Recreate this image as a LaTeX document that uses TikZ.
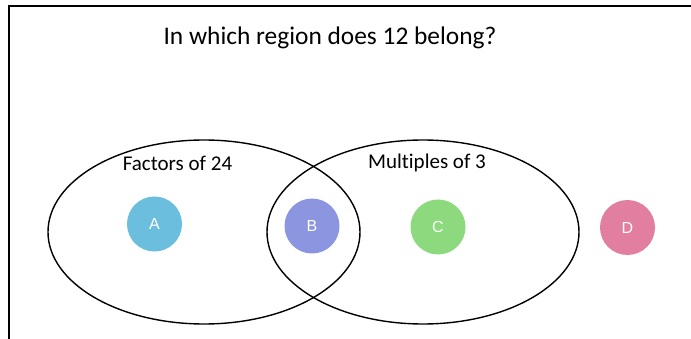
\documentclass[tikz,border=0pt]{standalone}
\usepackage{fontspec}
\setmainfont[Ligatures={NoCommon}]{Carlito}
\newfontfamily\letterfont{Liberation Sans}
\usetikzlibrary{shapes.geometric}
\definecolor{cA}{HTML}{6CBEDE}
\definecolor{cB}{HTML}{8B95E0}
\definecolor{cC}{HTML}{8CD97E}
\definecolor{cD}{HTML}{E27EA0}
\begin{document}
\begin{tikzpicture}[x=1pt,y=-1pt,
  setell/.style={ellipse, draw=black, line width=1.4pt, inner sep=0pt, minimum width=312pt, minimum height=184pt},
  region/.style={circle, inner sep=0pt, minimum size=55pt, text=white, font=\letterfont\fontsize{16}{18}\selectfont},
  setlabel/.style={font=\fontsize{21}{24}\selectfont, inner sep=0pt}]
\useasboundingbox (0,0) rectangle (691,339);
\fill[white] (0,0) rectangle (691,339);
\coordinate (fbl) at (8.5,339);
\coordinate (ftl) at (8.5,6);
\coordinate (ftr) at (691,6);
\draw[line width=2pt] (fbl) -- (ftl) -- (ftr);
\node[font=\fontsize{25.4}{30}\selectfont, inner sep=0pt] (title) at (330,38) {In which region does 12 belong?};
\node[setell] (left) at (204,232) {};
\node[setell] (right) at (423,232) {};
\node[setlabel] (lf) at (177.5,163) {Factors of 24};
\node[setlabel] (lm) at (427,163) {Multiples of 3};
\node[region, fill=cA] (A) at (154.5,224) {A};
\node[region, fill=cB] (B) at (312,226) {B};
\node[region, fill=cC] (C) at (438,227) {C};
\node[region, fill=cD] (D) at (627.5,227.5) {D};
\end{tikzpicture}
\end{document}
